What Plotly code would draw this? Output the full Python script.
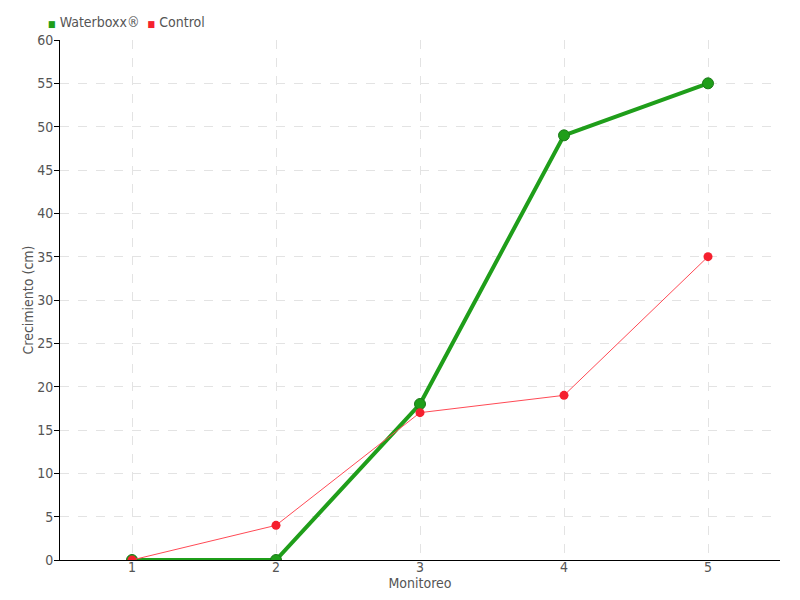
import plotly.graph_objects as go

monitoreo = [1, 2, 3, 4, 5]
waterboxx = [0, 0, 18, 49, 55]
control = [0, 4, 17, 19, 35]
y_ticks = [0, 5, 10, 15, 20, 25, 30, 35, 40, 45, 50, 55, 60]
series_names = ["Waterboxx®", "Control"]

GREEN = "#1f9e1a"
RED = "#f5202e"
FONT = "DejaVu Sans Condensed"

fig = go.Figure()
fig.add_trace(go.Scatter(x=monitoreo, y=waterboxx, mode="lines+markers", name=series_names[0],
                         line=dict(color=GREEN, width=4),
                         marker=dict(color=GREEN, size=11, line=dict(color="#1a7a18", width=1))))
fig.add_trace(go.Scatter(x=monitoreo, y=control, mode="lines+markers", name=series_names[1],
                         line=dict(color="#ff4a55", width=1),
                         marker=dict(color=RED, size=9, line=dict(width=0))))

legend_text = (f'<span style="color:{GREEN};font-size:9px">■</span> {series_names[0]}'
               f'  <span style="color:{RED};font-size:9px">■</span> {series_names[1]}')
fig.add_annotation(text=legend_text, xref="paper", yref="paper", x=-0.02, y=1.0,
                   xanchor="left", yanchor="bottom", yshift=8, showarrow=False,
                   font=dict(family=FONT, size=14, color="#555555"))

fig.update_layout(
    width=800, height=600, showlegend=False,
    paper_bgcolor="white", plot_bgcolor="white",
    margin=dict(l=52, r=28, t=32, b=48, autoexpand=False),
    font=dict(family=FONT, size=14, color="#555555"),
    xaxis=dict(range=[0.5, 5.5], tickvals=monitoreo, showline=True, linecolor="black",
               linewidth=1, showgrid=True, gridcolor="#e3e3e3", griddash="dash",
               zeroline=False, ticks="", automargin=False, ticklabelstandoff=-6,
               title=dict(text="Monitoreo", standoff=0,
               font=dict(size=14, color="#555555"))),
    yaxis=dict(range=[0, 60], tickvals=y_ticks, showline=True, linecolor="black",
               linewidth=1, showgrid=True, gridcolor="#e3e3e3", griddash="dash",
               zeroline=False, ticks="outside", ticklen=5, tickcolor="black",
               automargin=False, ticklabelstandoff=-2,
               title=dict(text="Crecimiento (cm)", standoff=0,
               font=dict(size=14, color="#555555"))),
)

fig.write_html("out.html")
